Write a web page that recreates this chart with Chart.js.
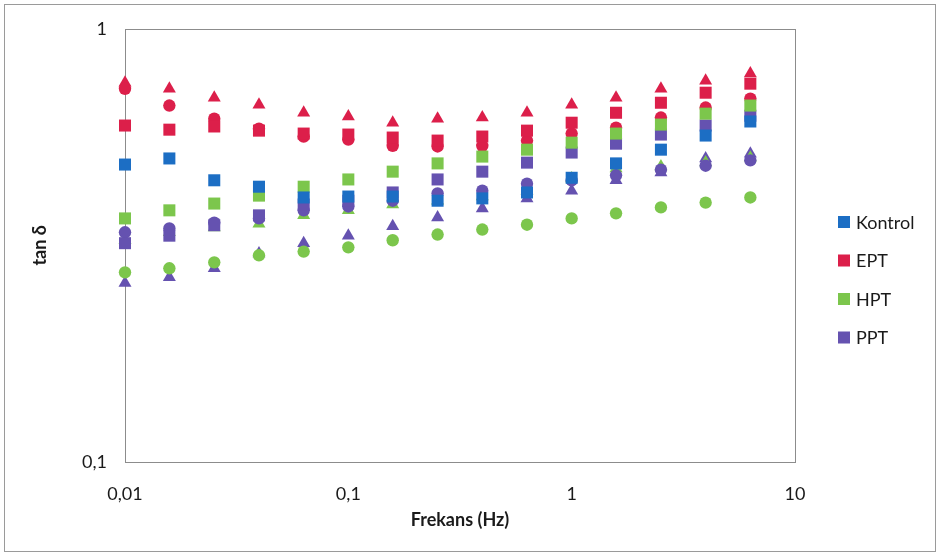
<!DOCTYPE html>
<html>
<head>
<meta charset="utf-8">
<script src="https://cdn.jsdelivr.net/npm/chart.js@4/dist/chart.umd.min.js"></script>
<style>
  html, body { margin: 0; padding: 0; background: #fff; }
  #wrap { width: 940px; height: 556px; }
</style>
</head>
<body>
<div id="wrap"><canvas id="myChart" width="940" height="556"></canvas></div>
<script>
// frequencies (Hz), 5 points per decade
const freq = [0.01, 0.0158, 0.0251, 0.0398, 0.0631, 0.1, 0.158, 0.251, 0.398, 0.631, 1, 1.58, 2.51, 3.98, 6.31];

// tan delta values
const kontrolSq = [0.486, 0.502, 0.447, 0.432, 0.408, 0.410, 0.410, 0.401, 0.406, 0.419, 0.453, 0.489, 0.526, 0.567, 0.611];
const eptSq     = [0.598, 0.585, 0.595, 0.582, 0.573, 0.570, 0.561, 0.552, 0.564, 0.582, 0.607, 0.640, 0.675, 0.712, 0.747];
const eptCi     = [0.727, 0.665, 0.620, 0.588, 0.564, 0.555, 0.537, 0.535, 0.537, 0.552, 0.573, 0.591, 0.624, 0.658, 0.690];
const eptTr     = [0.751, 0.727, 0.693, 0.668, 0.640, 0.627, 0.607, 0.620, 0.624, 0.640, 0.668, 0.693, 0.727, 0.759, 0.788];
const hptSq     = [0.365, 0.381, 0.395, 0.412, 0.432, 0.449, 0.468, 0.489, 0.507, 0.526, 0.546, 0.573, 0.601, 0.637, 0.665];
const hptCi     = [0.274, 0.280, 0.289, 0.300, 0.306, 0.313, 0.325, 0.335, 0.344, 0.353, 0.365, 0.375, 0.387, 0.397, 0.408];
const hptTr     = [0.325, 0.339, 0.348, 0.355, 0.371, 0.381, 0.393, 0.401, 0.410, 0.423, 0.451, 0.476, 0.481, 0.491, 0.504];
const pptSq     = [0.320, 0.333, 0.352, 0.371, 0.393, 0.401, 0.419, 0.449, 0.468, 0.491, 0.518, 0.543, 0.570, 0.598, 0.630];
const pptCi     = [0.339, 0.346, 0.357, 0.365, 0.381, 0.389, 0.401, 0.417, 0.423, 0.439, 0.447, 0.459, 0.473, 0.483, 0.497];
const pptTr     = [0.259, 0.267, 0.280, 0.303, 0.320, 0.333, 0.350, 0.367, 0.385, 0.406, 0.423, 0.447, 0.466, 0.502, 0.515];

const xTicks = [0.01, 0.1, 1, 10];
const xTickLabels = ['0,01', '0,1', '1', '10'];
const yTicks = [0.1, 1];
const yTickLabels = ['0,1', '1'];

const BLUE = '#1c6ec4', RED = '#dc1f4a', GREEN = '#7cc64c', PURPLE = '#6552b0';

function pts(vals) {
  return vals.map((v, i) => ({ x: freq[i], y: v }));
}
function ds(label, vals, color, shape, showInLegend) {
  const r = shape === 'rect' ? 8.5 : (shape === 'triangle' ? 7.5 : 6.2);
  return {
    label: label,
    data: pts(vals),
    backgroundColor: color,
    borderColor: color,
    borderWidth: 0,
    pointStyle: shape,
    pointRadius: r,
    pointHoverRadius: r,
    clip: false,
    inLegend: showInLegend
  };
}

const datasets = [
  ds('Kontrol', kontrolSq, BLUE, 'rect', true),
  ds('EPT', eptSq, RED, 'rect', true),
  ds('HPT', hptSq, GREEN, 'rect', true),
  ds('PPT', pptSq, PURPLE, 'rect', true),
  ds('EPT 2', eptCi, RED, 'circle', false),
  ds('HPT 2', hptCi, GREEN, 'circle', false),
  ds('PPT 2', pptCi, PURPLE, 'circle', false),
  ds('EPT 3', eptTr, RED, 'triangle', false),
  ds('HPT 3', hptTr, GREEN, 'triangle', false),
  ds('PPT 3', pptTr, PURPLE, 'triangle', false)
];

// white page, outer frame and plot box
const framePlugin = {
  id: 'frame',
  beforeDraw(chart) {
    const c = chart.ctx;
    c.save();
    c.fillStyle = '#fff';
    c.fillRect(0, 0, chart.width, chart.height);
    c.strokeStyle = '#9a9a9a';
    c.lineWidth = 1;
    c.strokeRect(4.5, 4.5, 931, 547);
    c.restore();
  },
  beforeDatasetsDraw(chart) {
    const a = chart.chartArea;
    const c = chart.ctx;
    c.save();
    c.strokeStyle = '#8c8c8c';
    c.lineWidth = 1;
    c.strokeRect(Math.round(a.left) + 0.5, Math.round(a.top) + 0.5,
      Math.round(a.right - a.left), Math.round(a.bottom - a.top));
    c.restore();
  }
};

// legend only for the four square series
const legendPlugin = {
  id: 'sideLegend',
  afterDraw(chart) {
    const c = chart.ctx;
    const shown = chart.data.datasets.filter(d => d.inLegend);
    c.save();
    c.font = '18px Lato';
    c.textBaseline = 'middle';
    shown.forEach((d, i) => {
      const y = 222 + i * 38.5;
      c.fillStyle = d.backgroundColor;
      c.fillRect(838, y - 6, 12, 12);
      c.fillStyle = '#1a1a1a';
      c.fillText(d.label, 856, y + 1);
    });
    c.restore();
  }
};

new Chart(document.getElementById('myChart').getContext('2d'), {
  type: 'scatter',
  data: { datasets: datasets },
  options: {
    responsive: false,
    animation: false,
    layout: { padding: { top: 28, right: 145, bottom: 0, left: 0 } },
    plugins: {
      legend: { display: false },
      tooltip: { enabled: false }
    },
    scales: {
      x: {
        type: 'logarithmic',
        min: 0.01,
        max: 10,
        afterBuildTicks: (s) => { s.ticks = xTicks.map(v => ({ value: v })); },
        afterFit: (s) => { s.height = 94; },
        grid: { display: false, drawTicks: false },
        border: { display: false },
        ticks: {
          padding: 21,
          color: '#1a1a1a',
          font: { family: 'Lato', size: 18 },
          maxRotation: 0,
          autoSkip: false,
          callback: (v, i) => xTickLabels[i]
        },
        title: {
          display: true,
          text: 'Frekans (Hz)',
          color: '#1a1a1a',
          font: { family: 'Lato', size: 18, weight: 'bold' },
          padding: { top: 0, bottom: 25 }
        }
      },
      y: {
        type: 'logarithmic',
        min: 0.1,
        max: 1,
        afterBuildTicks: (s) => { s.ticks = yTicks.map(v => ({ value: v })); },
        afterFit: (s) => { s.width = 125; },
        grid: { display: false, drawTicks: false },
        border: { display: false },
        ticks: {
          padding: 18,
          color: '#1a1a1a',
          font: { family: 'Lato', size: 18 },
          autoSkip: false,
          callback: (v, i) => yTickLabels[i]
        },
        title: {
          display: true,
          text: 'tan δ',
          color: '#1a1a1a',
          font: { family: 'Lato', size: 18, weight: 'bold' },
          padding: { top: 29, bottom: 0 }
        }
      }
    }
  },
  plugins: [framePlugin, legendPlugin]
});
</script>
</body>
</html>
